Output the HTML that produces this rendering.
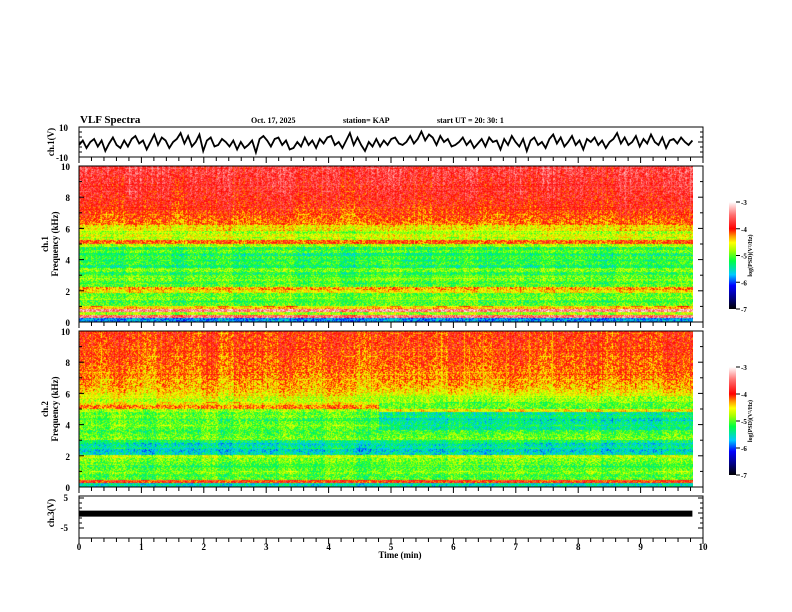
<!DOCTYPE html>
<html><head><meta charset="utf-8">
<style>
html,body{margin:0;padding:0;background:#fff;}
#wrap{position:relative;width:792px;height:612px;overflow:hidden;font-family:"Liberation Serif",serif;font-weight:bold;}
svg text{font-family:"Liberation Serif",serif;font-weight:bold;}
canvas{position:absolute;}
</style></head>
<body>
<div id="wrap">
<canvas id="spec1" width="614" height="156" style="left:79px;top:166px"></canvas>
<canvas id="spec2" width="614" height="156" style="left:79px;top:331px"></canvas>
<svg id="ov" width="792" height="612" style="position:absolute;left:0;top:0">
<defs>
<linearGradient id="cb" x1="0" y1="1" x2="0" y2="0">
<stop offset="0" stop-color="#000000"/><stop offset="0.1" stop-color="#000080"/><stop offset="0.22" stop-color="#0000ff"/>
<stop offset="0.32" stop-color="#00c8ff"/><stop offset="0.45" stop-color="#00ff40"/><stop offset="0.55" stop-color="#aaff00"/>
<stop offset="0.62" stop-color="#ffff00"/><stop offset="0.68" stop-color="#ff9900"/><stop offset="0.75" stop-color="#ff0000"/>
<stop offset="0.88" stop-color="#ff7070"/><stop offset="1" stop-color="#ffffff"/></linearGradient>
</defs>
<text x="80" y="123" font-size="11">VLF Spectra</text>
<text x="251" y="123" font-size="8">Oct. 17, 2025</text>
<text x="343" y="123" font-size="8">station= KAP</text>
<text x="437" y="123" font-size="8">start  UT =   20: 30: 1</text>
<g id="axes"></g>
</svg>
</div>
<script>
// ---- data ----
const ch1Trace=[-2,1,-4,0,2,-3,1,-6,-1,3,-2,-4,1,-3,2,4,-1,1,-5,0,5,-2,3,1,-4,0,2,6,-1,4,-3,0,5,-6,1,3,-3,-2,2,0,-3,1,-5,0,-4,-2,1,-7,2,4,1,-3,2,3,-2,1,-5,-4,0,-3,3,-2,1,-4,2,-1,3,4,-2,0,-4,1,6,-2,3,-2,-6,0,-3,2,-3,1,-2,2,3,-1,-2,0,4,-1,2,7,1,5,3,-2,4,0,2,-3,-2,0,3,-2,1,-4,-1,2,-3,3,0,1,-5,2,-2,4,0,-3,2,-6,1,3,-2,0,-4,2,5,-1,3,-3,0,4,-2,1,-5,2,0,3,-2,1,-4,0,2,6,-1,3,-2,0,4,-3,2,-1,5,0,-2,3,-4,1,2,-1,3,0,-2,1];
const ch3Trace=[-0.2,-0.2,-0.2,-0.2,-0.2,-0.2,-0.2,-0.2,-0.2,-0.2,-0.2,-0.2];
const timeTicks=[0,1,2,3,4,5,6,7,8,9,10];
const freqTicks=[0,2,4,6,8,10];
const cbTicks=[-3,-4,-5,-6,-7];
const ch1Profile=[-5.8,-3.5,-4.8,-3.4,-4.4,-5.0,-5.1,-4.9,-5.0,-4.5,-4.3,-5.0,-5.1,-4.9,-5.0,-5.2,-4.9,-5.3,-5.1,-5.2,-5.1,-5.3,-5.0,-5.2,-4.8,-4.1,-4.7,-4.6,-4.8,-4.5,-4.5,-4.2,-4.15,-4.1,-4.05,-4.0,-3.95,-3.9,-3.9,-3.85,-3.85,-3.8,-3.8,-3.8,-3.75,-3.75,-3.75,-3.7,-3.7,-3.7];
const ch2ProfileA=[-5.5,-4.0,-5.0,-5.1,-4.9,-5.0,-5.1,-5.0,-4.9,-4.7,-5.5,-5.6,-5.4,-5.5,-5.3,-4.9,-5.0,-5.1,-5.0,-4.9,-5.0,-5.1,-4.9,-5.0,-4.8,-4.2,-4.5,-4.7,-4.6,-4.5,-4.4,-4.35,-4.3,-4.3,-4.25,-4.2,-4.2,-4.15,-4.15,-4.1,-4.1,-4.1,-4.05,-4.05,-4.05,-4.0,-4.0,-4.0,-4.0,-4.0];
const ch2ProfileB=[-5.5,-4.0,-5.0,-5.1,-4.9,-5.0,-5.1,-5.0,-4.9,-4.7,-5.5,-5.6,-5.4,-5.5,-5.3,-4.9,-5.0,-5.1,-5.4,-5.3,-5.4,-5.5,-5.3,-5.4,-4.5,-5.0,-5.0,-4.8,-4.8,-4.6,-4.5,-4.4,-4.35,-4.3,-4.25,-4.2,-4.2,-4.15,-4.15,-4.1,-4.1,-4.1,-4.05,-4.05,-4.05,-4.0,-4.0,-4.0,-4.0,-4.0];
const ch2Switch=4.8;
const ch1TimeMod=[0.1,0,-0.1,0.2,0,0.1,-0.2,0.1,0,0.2,-0.1,0,0.1,0.2,-0.1,0,0.1,-0.2,0,0.1,0.2,0,-0.1,0.1,0,0.2,-0.1,0,0.1,-0.1,0.2,0,0.1,0,-0.1,0.2,0.1,0,0.1,0.2];
const ch2TimeMod=[0.1,-0.1,0.2,0,-0.2,0.1,0,-0.1,0.2,-0.2,0.1,0,-0.1,0.2,0,-0.1,0.2,0.1,-0.2,0,0.1,0,0.1,-0.1,0.2,0,-0.1,0.1,0.2,0,-0.1,0.1,0,0.2,-0.1,0.1,0,-0.1,0.2,0.1];
// ---- scales ----
const X0=79,X1=703,TMAX=10,DATA_END=9.83;
const xs=t=>X0+(X1-X0)*t/TMAX;
const stops=[[-7,[0,0,0]],[-6.6,[0,0,128]],[-6.1,[0,0,255]],[-5.7,[0,200,255]],[-5.2,[0,255,64]],[-4.8,[170,255,0]],[-4.5,[255,255,0]],[-4.25,[255,150,0]],[-4.0,[255,0,0]],[-3.5,[255,110,110]],[-3,[255,255,255]]];
function cmap(v){if(v<=-7)return stops[0][1];if(v>=-3)return stops[stops.length-1][1];
for(let i=1;i<stops.length;i++){if(v<=stops[i][0]){const a=stops[i-1],b=stops[i],f=(v-a[0])/(b[0]-a[0]);return a[1].map((c,k)=>c+(b[1][k]-c)*f);}}}
function drawSpec(id,profA,profB,sw,mod){
 const cv=document.getElementById(id),ctx=cv.getContext('2d'),W=cv.width,H=cv.height;
 const img=ctx.createImageData(W,H);
 for(let y=0;y<H;y++){const f=10*(H-1-y)/H;const bin=Math.min(profA.length-1,Math.floor(f/10*profA.length));
  for(let x=0;x<W;x++){const t=(x/(xs(DATA_END)-X0))*DATA_END;
   const prof=(t>=sw)?profB:profA;
   const mi=Math.min(mod.length-1,Math.floor(t/DATA_END*mod.length));
   const jit=(((x*37+y*91+((x*y)%23)*7)%17)/17-0.5)*0.7+(((x*53)%11)/11-0.5)*0.3*(f/10);
   const v=prof[bin]+mod[mi]*0.5+jit;
   const c=cmap(v),p=(y*W+x)*4;img.data[p]=c[0];img.data[p+1]=c[1];img.data[p+2]=c[2];img.data[p+3]=255;}}
 ctx.putImageData(img,0,0);
}
drawSpec('spec1',ch1Profile,ch1Profile,99,ch1TimeMod);
drawSpec('spec2',ch2ProfileA,ch2ProfileB,ch2Switch,ch2TimeMod);
// ---- axes ----
const NS='http://www.w3.org/2000/svg',g=document.getElementById('axes');
function el(tag,a){const e=document.createElementNS(NS,tag);for(const k in a)e.setAttribute(k,a[k]);g.appendChild(e);return e;}
function txt(s,x,y,sz,anchor,rot){const e=el('text',{x:x,y:y,'font-size':sz,'text-anchor':anchor||'start'});if(rot)e.setAttribute('transform','rotate(-90 '+x+' '+y+')');e.textContent=s;return e;}
const panels=[{t:127,b:157},{t:166,b:322},{t:331,b:487},{t:496,b:538}];
panels.forEach((p,i)=>{
 const r=el('rect',{x:X0,y:p.t,width:X1-X0,height:p.b-p.t,fill:'none',stroke:'#000','stroke-width':1});
 
 
 for(let k=0;k<=50;k++){const x=xs(k*0.2),L=(k%5==0)?6:4;
  el('line',{x1:x,y1:p.b,x2:x,y2:p.b+L,stroke:'#000'});
 }
});
// top panel traces
const y1=v=>142-v*15/10;
let d='';ch1Trace.forEach((v,i)=>{d+=(i?'L':'M')+xs(i/(ch1Trace.length-1)*9.83).toFixed(1)+' '+y1(v).toFixed(1);});
const tr=el('path',{d:d,fill:'none',stroke:'#000','stroke-width':1.8});


txt('10',68,131,9,'end');txt('-10',68,161,9,'end');txt('ch.1(V)',54,142,9,'middle',true);
// spectrogram freq axes
[[166,322,'ch.1'],[331,487,'ch.2']].forEach(([t,b,n])=>{
 freqTicks.forEach(f=>{const y=b-(b-t)*f/10;txt(String(f),70,y+4,9,'end');
  el('line',{x1:X0,y1:y,x2:X0+5,y2:y,stroke:'#000'});el('line',{x1:X1,y1:y,x2:X1-5,y2:y,stroke:'#000'});});
 for(let f=1;f<10;f+=2){const y=b-(b-t)*f/10;el('line',{x1:X0,y1:y,x2:X0+3,y2:y,stroke:'#000'});el('line',{x1:X1,y1:y,x2:X1-3,y2:y,stroke:'#000'});}
 txt(n,48,(t+b)/2,9,'middle',true);txt('Frequency  (kHz)',58,(t+b)/2,9,'middle',true);
});
// colorbars
[[202,309],[367,475]].forEach(([t,b],i)=>{
 const r=el('rect',{x:729,y:t,width:7,height:b-t,fill:'url(#cb)'});
 
 
 cbTicks.forEach(v=>{const y=t+(b-t)*(-3-v)/4;el('line',{x1:736,y1:y,x2:740,y2:y,stroke:'#000'});txt(String(v),741,y+3,7,'start');});
 txt('log(PSD)(V²/Hz)',752,(t+b)/2,6,'middle',true);
});
// ch3
const y3=v=>513-v*15/5;
let d3='';ch3Trace.forEach((v,i)=>{d3+=(i?'L':'M')+xs(i/(ch3Trace.length-1)*9.83).toFixed(1)+' '+y3(v).toFixed(1);});
const t3=el('path',{d:d3,fill:'none',stroke:'#000','stroke-width':6});


txt('5',68,501,9,'end');txt('-5',68,531,9,'end');txt('ch.3(V)',54,513,9,'middle',true);
[498,503,508,513,518,523,528].forEach((y,k)=>{const L=(k%3==0)?5:3;el('line',{x1:X0,y1:y,x2:X0+L,y2:y,stroke:'#000'});el('line',{x1:X1,y1:y,x2:X1-L,y2:y,stroke:'#000'});});
[127,132,137,142,147,152,157].forEach((y,k)=>{const L=(k%3==0)?5:3;el('line',{x1:X0,y1:y,x2:X0+L,y2:y,stroke:'#000'});el('line',{x1:X1,y1:y,x2:X1-L,y2:y,stroke:'#000'});});
timeTicks.forEach(t=>txt(String(t),xs(t),550,9,'middle'));
txt('Time  (min)',400,558,9,'middle');
</script>
</body></html>
